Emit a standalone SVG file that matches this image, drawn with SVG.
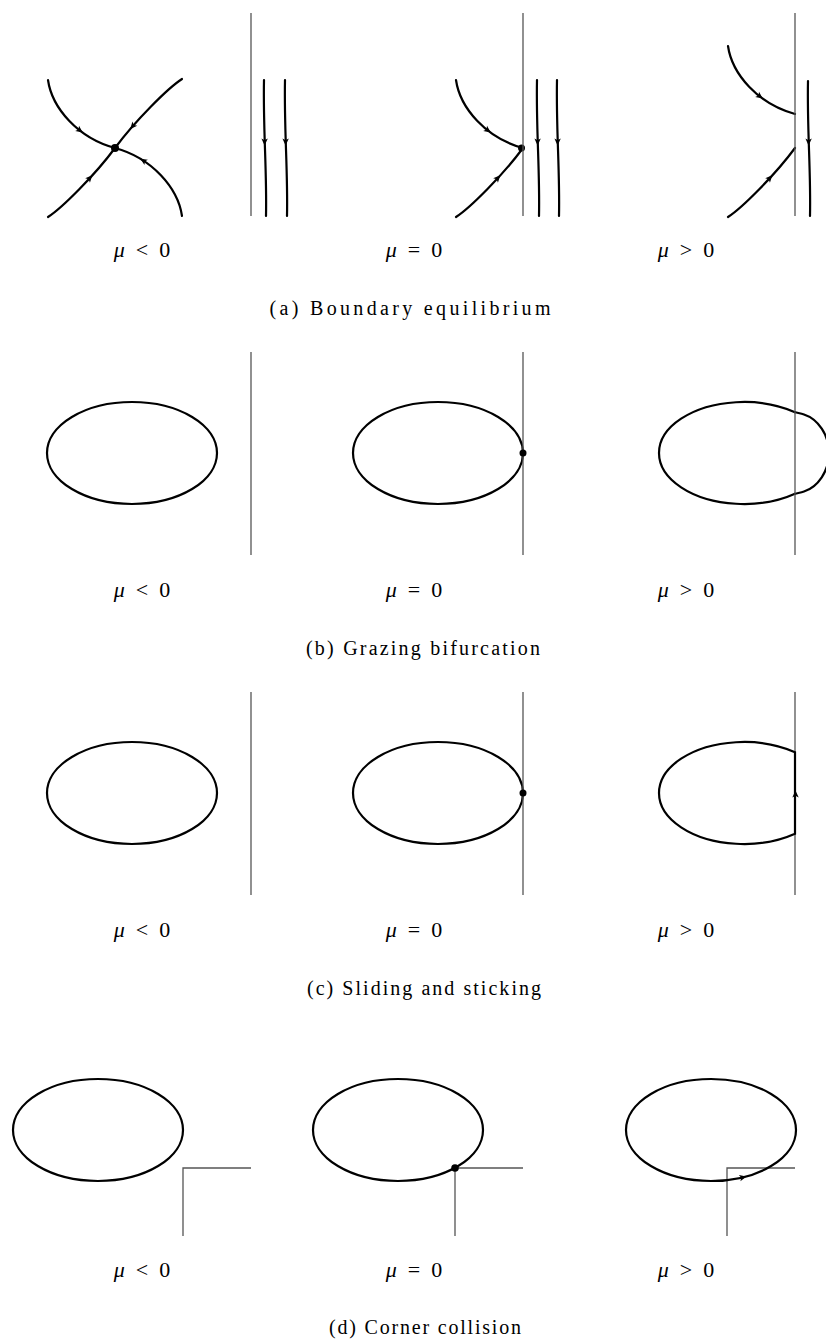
<svg xmlns="http://www.w3.org/2000/svg" xmlns:xlink="http://www.w3.org/1999/xlink" width="826" height="1340" viewBox="0 0 826 1340">
<style>
.traj{fill:none;stroke:#000;stroke-width:2.2;stroke-linecap:round}
.wall{fill:none;stroke:#555;stroke-width:1.3}
.dot{fill:#000}
.lbl{font-family:"Liberation Serif",serif;font-size:22px;fill:#000;text-anchor:middle}
.lbl .mu{font-style:italic}
.cap{font-family:"Liberation Serif",serif;font-size:20px;fill:#000;text-anchor:middle}
</style>
<defs>
<path id="ah" d="M-4.5,-3.2 L2.5,0 L-4.5,3.2 L-2.8,0 Z" fill="#000"/>
</defs>
<rect width="826" height="1340" fill="#fff"/>

<!-- (a) Boundary equilibrium -->
<g id="a-neg">
<path class="traj" d="M48,80 C52,108 78,138 115,148 C152,158 178,188 182,216"/>
<path class="traj" d="M48,217 C62,208 95,175 115,148 C135,121 168,88 182,79"/>
<circle class="dot" cx="115" cy="148" r="4"/>
<use xlink:href="#ah" transform="translate(80.7,131.1) rotate(37)"/>
<use xlink:href="#ah" transform="translate(142.4,160) rotate(212)"/>
<use xlink:href="#ah" transform="translate(90.6,177.2) rotate(-47.5)"/>
<use xlink:href="#ah" transform="translate(131.9,127.1) rotate(131)"/>
<line class="wall" x1="251" y1="13" x2="251" y2="216"/>
<path class="traj" d="M264,80 C263,130 267,170 266,216"/>
<path class="traj" d="M285,80 C284,130 288,170 287,216"/>
<use xlink:href="#ah" transform="translate(264.6,143) rotate(90)"/>
<use xlink:href="#ah" transform="translate(285.6,143) rotate(90)"/>
</g>
<g id="a-zero">
<path class="traj" d="M456,80 C460,108 486,138 523,148"/>
<path class="traj" d="M456,217 C470,208 503,175 523,148"/>
<circle class="dot" cx="521.5" cy="148" r="3.5"/>
<use xlink:href="#ah" transform="translate(488.7,131.1) rotate(37)"/>
<use xlink:href="#ah" transform="translate(498.6,177.2) rotate(-47.5)"/>
<line class="wall" x1="523" y1="13" x2="523" y2="216"/>
<path class="traj" d="M537,80 C536,130 540,170 539,216"/>
<path class="traj" d="M557,80 C556,130 560,170 559,216"/>
<use xlink:href="#ah" transform="translate(537.6,143) rotate(90)"/>
<use xlink:href="#ah" transform="translate(557.6,143) rotate(90)"/>
</g>
<g id="a-pos">
<path class="traj" d="M728,46 C732,74 758,104 795,114"/>
<path class="traj" d="M728,217 C742,208 775,175 795,148"/>
<use xlink:href="#ah" transform="translate(760.7,97.1) rotate(37)"/>
<use xlink:href="#ah" transform="translate(770.6,177.2) rotate(-47.5)"/>
<line class="wall" x1="795" y1="13" x2="795" y2="216"/>
<path class="traj" d="M808,81 C807,130 811,170 810,216"/>
<use xlink:href="#ah" transform="translate(808.6,143) rotate(90)"/>
</g>
<g id="a-labels">
<text class="lbl" x="142" y="257"><tspan class="mu">μ</tspan><tspan dx="11">&lt;</tspan><tspan dx="11">0</tspan></text>
<text class="lbl" x="414" y="257"><tspan class="mu">μ</tspan><tspan dx="11">=</tspan><tspan dx="11">0</tspan></text>
<text class="lbl" x="686" y="257"><tspan class="mu">μ</tspan><tspan dx="11">&gt;</tspan><tspan dx="11">0</tspan></text>
<text class="cap" x="410" y="315" textLength="281" lengthAdjust="spacing">(a) Boundary equilibrium</text>
</g>

<!-- (b) Grazing bifurcation -->
<g id="b-neg">
<ellipse class="traj" cx="132" cy="453" rx="85" ry="51"/>
<line class="wall" x1="251" y1="352" x2="251" y2="555"/>
</g>
<g id="b-zero">
<ellipse class="traj" cx="438" cy="453" rx="85" ry="51"/>
<line class="wall" x1="523" y1="352" x2="523" y2="555"/>
<circle class="dot" cx="523" cy="453" r="3.5"/>
</g>
<g id="b-pos">
<path class="traj" d="M795,412.2 A85,51 0 1 0 795,493.8"/>
<path class="traj" d="M795,412.2 C798,413 801,413.5 804,414.5 C818,419 829,435 829,453 C829,471 818,487 804,491.5 C801,492.5 798,493 795,493.8"/>
<line class="wall" x1="795" y1="352" x2="795" y2="555"/>
</g>
<g id="b-labels">
<text class="lbl" x="142" y="597"><tspan class="mu">μ</tspan><tspan dx="11">&lt;</tspan><tspan dx="11">0</tspan></text>
<text class="lbl" x="414" y="597"><tspan class="mu">μ</tspan><tspan dx="11">=</tspan><tspan dx="11">0</tspan></text>
<text class="lbl" x="686" y="597"><tspan class="mu">μ</tspan><tspan dx="11">&gt;</tspan><tspan dx="11">0</tspan></text>
<text class="cap" x="423" y="655" textLength="234" lengthAdjust="spacing">(b) Grazing bifurcation</text>
</g>

<!-- (c) Sliding and sticking -->
<g id="c-neg">
<ellipse class="traj" cx="132" cy="793" rx="85" ry="51"/>
<line class="wall" x1="251" y1="692" x2="251" y2="895"/>
</g>
<g id="c-zero">
<ellipse class="traj" cx="438" cy="793" rx="85" ry="51"/>
<line class="wall" x1="523" y1="692" x2="523" y2="895"/>
<circle class="dot" cx="523" cy="793" r="3.5"/>
</g>
<g id="c-pos">
<line class="wall" x1="795" y1="692" x2="795" y2="895"/>
<path class="traj" d="M795,752.2 A85,51 0 1 0 795,833.8 Z"/>
<use xlink:href="#ah" transform="translate(795.5,793) rotate(-90)"/>
</g>
<g id="c-labels">
<text class="lbl" x="142" y="937"><tspan class="mu">μ</tspan><tspan dx="11">&lt;</tspan><tspan dx="11">0</tspan></text>
<text class="lbl" x="414" y="937"><tspan class="mu">μ</tspan><tspan dx="11">=</tspan><tspan dx="11">0</tspan></text>
<text class="lbl" x="686" y="937"><tspan class="mu">μ</tspan><tspan dx="11">&gt;</tspan><tspan dx="11">0</tspan></text>
<text class="cap" x="424" y="995" textLength="234" lengthAdjust="spacing">(c) Sliding and sticking</text>
</g>

<!-- (d) Corner collision -->
<g id="d-neg">
<ellipse class="traj" cx="98" cy="1130" rx="85" ry="51"/>
<path class="wall" d="M251,1168 H183 V1236"/>
</g>
<g id="d-zero">
<ellipse class="traj" cx="398" cy="1130" rx="85" ry="51"/>
<path class="wall" d="M523,1168 H455 V1236"/>
<circle class="dot" cx="455" cy="1168" r="3.8"/>
</g>
<g id="d-pos">
<path class="wall" d="M795,1168 H727 V1236"/>
<ellipse class="traj" cx="711" cy="1130" rx="85" ry="51"/>
<use xlink:href="#ah" transform="translate(744,1177) rotate(-14)"/>
</g>
<g id="d-labels">
<text class="lbl" x="142" y="1277"><tspan class="mu">μ</tspan><tspan dx="11">&lt;</tspan><tspan dx="11">0</tspan></text>
<text class="lbl" x="414" y="1277"><tspan class="mu">μ</tspan><tspan dx="11">=</tspan><tspan dx="11">0</tspan></text>
<text class="lbl" x="686" y="1277"><tspan class="mu">μ</tspan><tspan dx="11">&gt;</tspan><tspan dx="11">0</tspan></text>
<text class="cap" x="425" y="1334" textLength="192" lengthAdjust="spacing">(d) Corner collision</text>
</g>
</svg>
